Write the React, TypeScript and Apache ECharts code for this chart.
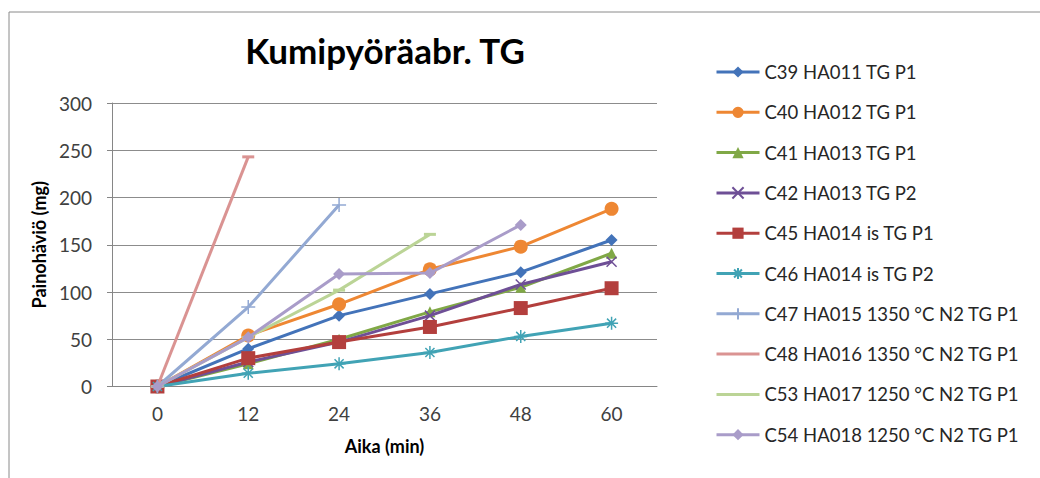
import React, { useEffect, useRef } from "react";
import * as echarts from "echarts";

const categories = ["0", "12", "24", "36", "48", "60"];
const seriesNames = [
  "C39 HA011 TG P1",
  "C40 HA012 TG P1",
  "C41 HA013 TG P1",
  "C42 HA013 TG P2",
  "C45 HA014 is TG P1",
  "C46 HA014 is TG P2",
  "C47 HA015 1350 °C N2 TG P1",
  "C48 HA016 1350 °C N2 TG P1",
  "C53 HA017 1250 °C N2 TG P1",
  "C54 HA018 1250 °C N2 TG P1",
];
const c39 = [0, 40, 75, 98, 121, 155];
const c40 = [0, 54, 87, 124, 148, 188];
const c41 = [0, 24, 50, 79, 105, 141];
const c42 = [0, 26, 47, 75, 108, 132];
const c45 = [0, 30, 47, 63, 83, 104];
const c46 = [0, 14, 24, 36, 53, 67];
const c47 = [0, 84, 192, null, null, null];
const c48 = [0, 243, null, null, null, null];
const c53 = [0, 52, 102, 161, null, null];
const c54 = [0, 52, 119, 120, 171, null];
const yTicks = { min: 0, max: 300, interval: 50 };

const seriesData = [c39, c40, c41, c42, c45, c46, c47, c48, c53, c54];
const colors = [
  "#4373B9",
  "#EE8733",
  "#80A846",
  "#6E4F96",
  "#B33F3D",
  "#41A3B5",
  "#93A9D3",
  "#DA9392",
  "#BBD496",
  "#A99CC9",
];
const starPath = "path://M0,5L10,5M5,0L5,10M1.5,1.5L8.5,8.5M1.5,8.5L8.5,1.5";
const xPath = "path://M0,0L10,10M0,10L10,0";
const plusPath = "path://M5,0L5,10M0,5L10,5";
const symbols: any[] = [
  { symbol: "diamond", size: 12, stroke: false, legendMark: true },
  { symbol: "circle", size: 14, stroke: false, legendMark: true },
  { symbol: "triangle", size: 11, stroke: false, legendMark: true },
  { symbol: xPath, size: 10, stroke: true, legendMark: true },
  { symbol: "rect", size: 14, stroke: false, legendMark: true },
  { symbol: starPath, size: 13, stroke: true, legendMark: true },
  { symbol: plusPath, size: 14, stroke: true, legendMark: true },
  { symbol: "rect", size: [12, 3], stroke: false, legendMark: false },
  { symbol: "rect", size: [12, 3], stroke: false, legendMark: false },
  { symbol: "diamond", size: 12, stroke: false, legendMark: true },
];

const FONT = "Lato, 'Open Sans', sans-serif";

export default function App() {
  const ref = useRef<HTMLDivElement>(null);
  useEffect(() => {
    if (!ref.current) return;
    const chart = echarts.init(ref.current, undefined, { renderer: "svg" });
    const series = seriesNames.map((name, i) => ({
      name,
      type: "line",
      data: seriesData[i],
      symbol: symbols[i].symbol,
      symbolSize: symbols[i].size,
      showAllSymbol: true,
      connectNulls: false,
      lineStyle: { width: 3, color: colors[i] },
      itemStyle: symbols[i].stroke
        ? { color: colors[i], borderColor: colors[i], borderWidth: 1.5 }
        : { color: colors[i], borderWidth: 0 },
      emphasis: { disabled: true },
      z: 2 + i,
    }));
    const legendData = seriesNames.map((name, i) =>
      symbols[i].legendMark ? { name } : { name, itemStyle: { opacity: 0 } }
    );
    chart.setOption({
      animation: false,
      backgroundColor: "#ffffff",
      textStyle: { fontFamily: FONT },
      title: {
        text: "Kumipyöräabr. TG",
        left: 380,
        top: 27,
        textAlign: "center",
        textStyle: { fontFamily: FONT, fontSize: 35, fontWeight: "bold", color: "#000" },
      },
      grid: { left: 112, top: 103, right: 383, bottom: 91.5 },
      legend: {
        orient: "vertical",
        left: 710,
        top: 56,
        itemWidth: 43,
        itemHeight: 14,
        itemGap: 18.3,
        data: legendData,
        lineStyle: { width: 3 },
        textStyle: { fontFamily: FONT, fontSize: 18.5, color: "#262626", lineHeight: 22 },
      },
      xAxis: {
        type: "category",
        data: categories,
        boundaryGap: true,
        name: "Aika (min)",
        nameLocation: "middle",
        nameGap: 50,
        nameTextStyle: { fontFamily: FONT, fontSize: 18, fontWeight: "bold", color: "#000" },
        axisLine: { lineStyle: { color: "#868686", width: 1 } },
        axisTick: { show: false },
        axisLabel: { fontFamily: FONT, fontSize: 19, color: "#404040", margin: 17 },
        splitLine: { show: false },
      },
      yAxis: {
        type: "value",
        min: yTicks.min,
        max: yTicks.max,
        interval: yTicks.interval,
        name: "Painohäviö (mg)",
        nameLocation: "middle",
        nameGap: 60,
        nameTextStyle: { fontFamily: FONT, fontSize: 18, fontWeight: "bold", color: "#000" },
        axisLine: { show: true, lineStyle: { color: "#868686", width: 1 } },
        axisTick: { show: true, length: 5, lineStyle: { color: "#868686" } },
        axisLabel: { fontFamily: FONT, fontSize: 19, color: "#404040", margin: 20 },
        splitLine: { lineStyle: { color: "#8C8C8C", width: 1 } },
      },
      graphic: [
        { type: "line", shape: { x1: 9, y1: 12, x2: 1040, y2: 12 }, style: { stroke: "#8A8A8A", lineWidth: 1 } },
        { type: "line", shape: { x1: 9, y1: 12, x2: 9, y2: 478 }, style: { stroke: "#8A8A8A", lineWidth: 1 } },
      ],
      series,
    });
    return () => chart.dispose();
  }, []);
  return <div ref={ref} style={{ position: "fixed", left: 0, top: 0, width: 1040, height: 478 }} />;
}
